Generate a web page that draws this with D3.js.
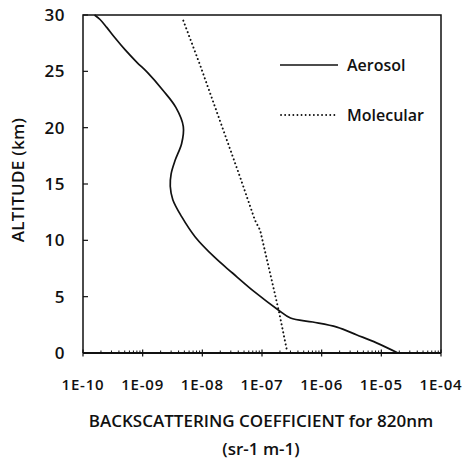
<!DOCTYPE html>
<html>
<head>
<meta charset="utf-8">
<script src="https://cdn.jsdelivr.net/npm/d3@7"></script>
<style>
  body { margin: 0; background: #fff; }
  text { font-family: "Open Sans", "Noto Sans", sans-serif; font-weight: 600; fill: #111; }
</style>
</head>
<body>
<div id="chart"></div>
<script>
// altitude (km) and backscattering coefficient (sr-1 m-1)
const aerosolAlt = [30.0, 29.6, 28.9, 28.0, 26.9, 25.8, 24.9, 23.3, 21.8, 20.1, 18.6, 17.1, 15.9, 14.8, 13.6, 12.1, 10.3, 8.5, 7.1, 5.4, 3.8, 3.1, 2.75, 2.3, 1.6, 0.9, 0.0];
const aerosolBsc = [1.56e-10, 1.93e-10, 2.5e-10, 3.4e-10, 5.1e-10, 8.0e-10, 1.2e-9, 2.2e-9, 3.6e-9, 4.8e-9, 4.5e-9, 3.5e-9, 3.0e-9, 2.9e-9, 3.2e-9, 4.5e-9, 7.6e-9, 1.6e-8, 3.2e-8, 7.6e-8, 1.9e-7, 3.0e-7, 7.1e-7, 1.8e-6, 3.9e-6, 8.3e-6, 1.9e-5];
const molecularAlt = [29.5, 25.6, 15.6, 11.8, 10.9, 3.8, 0.3];
const molecularBsc = [4.8e-9, 9.1e-9, 4.3e-8, 7.6e-8, 9.3e-8, 1.9e-7, 2.6e-7];
const xTickValues = [1e-10, 1e-9, 1e-8, 1e-7, 1e-6, 1e-5, 1e-4];
const xTickLabels = ["1E-10", "1E-09", "1E-08", "1E-07", "1E-06", "1E-05", "1E-04"];
const yTickValues = [0, 5, 10, 15, 20, 25, 30];

const W = 465, H = 465;
const margin = {top: 15, right: 24, bottom: 112, left: 83};
const iw = W - margin.left - margin.right;
const ih = H - margin.top - margin.bottom;

const svg = d3.select("#chart").append("svg")
    .attr("width", W)
    .attr("height", H);

const g = svg.append("g")
    .attr("transform", "translate(" + margin.left + "," + margin.top + ")");

const x = d3.scaleLog().domain([1e-10, 1e-4]).range([0, iw]);
const y = d3.scaleLinear().domain([0, 30]).range([ih, 0]);

// frame: left, top, right
g.append("path")
    .attr("d", "M0," + ih + "V0H" + iw + "V" + ih)
    .attr("fill", "none")
    .attr("stroke", "#111")
    .attr("stroke-width", 1.5);

// x axis line
g.append("line")
    .attr("x1", 0).attr("x2", iw)
    .attr("y1", ih).attr("y2", ih)
    .attr("stroke", "#111")
    .attr("stroke-width", 2);

// minor ticks
let minor = [];
for (let e = -10; e < -4; e++) {
    for (let m = 2; m <= 9; m++) minor.push(m * Math.pow(10, e));
}
g.selectAll(".minor")
    .data(minor)
    .enter()
    .append("line")
    .attr("class", "minor")
    .attr("x1", d => x(d)).attr("x2", d => x(d))
    .attr("y1", ih).attr("y2", ih - 2.5)
    .attr("stroke", "#111")
    .attr("stroke-width", 1);

// major x ticks + labels
g.selectAll(".xmajor")
    .data(xTickValues)
    .enter()
    .append("line")
    .attr("class", "xmajor")
    .attr("x1", d => x(d)).attr("x2", d => x(d))
    .attr("y1", ih - 3.5).attr("y2", ih + 3.5)
    .attr("stroke", "#111")
    .attr("stroke-width", 1.2);

g.selectAll(".xlab")
    .data(xTickValues)
    .enter()
    .append("text")
    .attr("class", "xlab")
    .attr("x", d => x(d))
    .attr("y", ih + 37)
    .attr("text-anchor", "middle")
    .style("font-size", "15px")
    .style("letter-spacing", "0.8px")
    .text((d, i) => xTickLabels[i]);

// y ticks (inward) + labels
g.selectAll(".ytick")
    .data(yTickValues)
    .enter()
    .append("line")
    .attr("class", "ytick")
    .attr("x1", 0).attr("x2", 5)
    .attr("y1", d => y(d)).attr("y2", d => y(d))
    .attr("stroke", "#111")
    .attr("stroke-width", 1.2);

g.selectAll(".ylab")
    .data(yTickValues)
    .enter()
    .append("text")
    .attr("class", "ylab")
    .attr("x", -18)
    .attr("y", d => y(d))
    .attr("dy", "0.36em")
    .attr("text-anchor", "end")
    .style("font-size", "17px")
    .style("letter-spacing", "0.5px")
    .text(d => d);

// curves
const aerosol = aerosolAlt.map((a, i) => ({alt: a, v: aerosolBsc[i]}));
const molecular = molecularAlt.map((a, i) => ({alt: a, v: molecularBsc[i]}));

const line = d3.line()
    .x(d => x(d.v))
    .y(d => y(d.alt));

g.append("path")
    .datum(aerosol)
    .attr("fill", "none")
    .attr("stroke", "#111")
    .attr("stroke-width", 1.7)
    .attr("d", line.curve(d3.curveCatmullRom.alpha(0.5)));

g.append("path")
    .datum(molecular)
    .attr("fill", "none")
    .attr("stroke", "#111")
    .attr("stroke-width", 2)
    .attr("stroke-linecap", "round")
    .attr("stroke-dasharray", "0.1 4")
    .attr("d", d3.line().x(d => x(d.v)).y(d => y(d.alt)));

// legend
const legend = svg.append("g");
legend.append("line")
    .attr("x1", 280).attr("x2", 338)
    .attr("y1", 65).attr("y2", 65)
    .attr("stroke", "#111")
    .attr("stroke-width", 1.7);
legend.append("text")
    .attr("x", 347).attr("y", 71)
    .style("font-size", "16px")
    .text("Aerosol");
legend.append("line")
    .attr("x1", 281).attr("x2", 335)
    .attr("y1", 115).attr("y2", 115)
    .attr("stroke", "#111")
    .attr("stroke-width", 1.8)
    .attr("stroke-linecap", "round")
    .attr("stroke-dasharray", "0.1 4");
legend.append("text")
    .attr("x", 347).attr("y", 121)
    .style("font-size", "16px")
    .text("Molecular");

// axis titles
svg.append("text")
    .attr("transform", "translate(24,180) rotate(-90)")
    .attr("text-anchor", "middle")
    .style("font-size", "17px")
    .style("letter-spacing", "0.3px")
    .text("ALTITUDE (km)");

svg.append("text")
    .attr("x", 261).attr("y", 427)
    .attr("text-anchor", "middle")
    .style("font-size", "17px")
    .text("BACKSCATTERING COEFFICIENT for 820nm");

svg.append("text")
    .attr("x", 261).attr("y", 455)
    .attr("text-anchor", "middle")
    .style("font-size", "17px")
    .text("(sr-1 m-1)");
</script>
</body>
</html>
